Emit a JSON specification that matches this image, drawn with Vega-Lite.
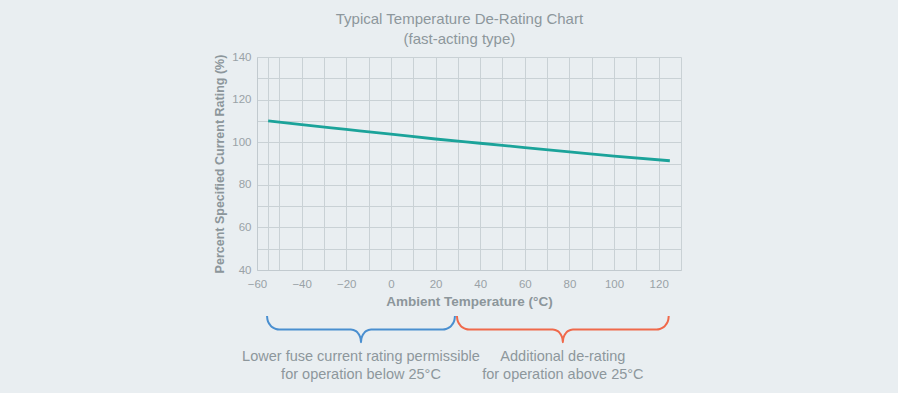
{
  "$schema": "https://vega.github.io/schema/vega-lite/v6.json",
  "background": "#e9eef1",
  "padding": {"left": 213, "top": 12, "right": 217, "bottom": 10},
  "title": {
    "text": ["Typical Temperature De-Rating Chart", "(fast-acting type)"],
    "font": "Liberation Sans",
    "fontSize": 15,
    "fontWeight": "normal",
    "color": "#8d979c",
    "lineHeight": 20,
    "anchor": "middle",
    "dx": 12,
    "offset": 4
  },
  "config": {
    "font": "Liberation Sans",
    "view": {"stroke": null},
    "axis": {
      "gridColor": "#c9d1d5",
      "gridWidth": 1,
      "domainColor": "#c2cacf",
      "ticks": false,
      "labelColor": "#99a2a7",
      "labelFont": "Liberation Sans",
      "labelFontSize": 11.5,
      "titleColor": "#8c969b",
      "titleFont": "Liberation Sans",
      "titleFontWeight": "bold",
      "labelOverlap": false,
      "labelFlush": false
    }
  },
  "datasets": {
    "curve": [
      {"temp": -55, "rating": 110.0},
      {"temp": -40, "rating": 108.2},
      {"temp": -20, "rating": 106.0},
      {"temp": 0, "rating": 103.8},
      {"temp": 20, "rating": 101.5},
      {"temp": 40, "rating": 99.5},
      {"temp": 60, "rating": 97.5},
      {"temp": 80, "rating": 95.5},
      {"temp": 100, "rating": 93.5},
      {"temp": 125, "rating": 91.3}
    ],
    "braces": [
      {"side": "below", "seq": 1, "temp": -55.5, "level": 0},
      {"side": "below", "seq": 2, "temp": -55.32, "level": 3.5},
      {"side": "below", "seq": 3, "temp": -54.78, "level": 6.75},
      {"side": "below", "seq": 4, "temp": -53.92, "level": 9.55},
      {"side": "below", "seq": 5, "temp": -52.8, "level": 11.7},
      {"side": "below", "seq": 6, "temp": -51.5, "level": 13.04},
      {"side": "below", "seq": 7, "temp": -50.1, "level": 13.5},
      {"side": "below", "seq": 8, "temp": -17.9, "level": 13.5},
      {"side": "below", "seq": 9, "temp": -15.65, "level": 15.2},
      {"side": "below", "seq": 10, "temp": -14.72, "level": 17.25},
      {"side": "below", "seq": 11, "temp": -14.0, "level": 19.9},
      {"side": "below", "seq": 12, "temp": -13.55, "level": 23.0},
      {"side": "below", "seq": 13, "temp": -13.4, "level": 26.3},
      {"side": "below", "seq": 14, "temp": -13.25, "level": 23.0},
      {"side": "below", "seq": 15, "temp": -12.8, "level": 19.9},
      {"side": "below", "seq": 16, "temp": -12.08, "level": 17.25},
      {"side": "below", "seq": 17, "temp": -11.15, "level": 15.2},
      {"side": "below", "seq": 18, "temp": -8.9, "level": 13.5},
      {"side": "below", "seq": 19, "temp": 23.3, "level": 13.5},
      {"side": "below", "seq": 20, "temp": 24.7, "level": 13.04},
      {"side": "below", "seq": 21, "temp": 26.0, "level": 11.7},
      {"side": "below", "seq": 22, "temp": 27.12, "level": 9.55},
      {"side": "below", "seq": 23, "temp": 27.98, "level": 6.75},
      {"side": "below", "seq": 24, "temp": 28.52, "level": 3.5},
      {"side": "below", "seq": 25, "temp": 28.7, "level": 0},
      {"side": "above", "seq": 1, "temp": 29.6, "level": 0},
      {"side": "above", "seq": 2, "temp": 29.78, "level": 3.5},
      {"side": "above", "seq": 3, "temp": 30.32, "level": 6.75},
      {"side": "above", "seq": 4, "temp": 31.18, "level": 9.55},
      {"side": "above", "seq": 5, "temp": 32.3, "level": 11.7},
      {"side": "above", "seq": 6, "temp": 33.6, "level": 13.04},
      {"side": "above", "seq": 7, "temp": 35.0, "level": 13.5},
      {"side": "above", "seq": 8, "temp": 72.55, "level": 13.5},
      {"side": "above", "seq": 9, "temp": 74.8, "level": 15.2},
      {"side": "above", "seq": 10, "temp": 75.73, "level": 17.25},
      {"side": "above", "seq": 11, "temp": 76.45, "level": 19.9},
      {"side": "above", "seq": 12, "temp": 76.9, "level": 23.0},
      {"side": "above", "seq": 13, "temp": 77.05, "level": 26.3},
      {"side": "above", "seq": 14, "temp": 77.2, "level": 23.0},
      {"side": "above", "seq": 15, "temp": 77.65, "level": 19.9},
      {"side": "above", "seq": 16, "temp": 78.37, "level": 17.25},
      {"side": "above", "seq": 17, "temp": 79.3, "level": 15.2},
      {"side": "above", "seq": 18, "temp": 81.55, "level": 13.5},
      {"side": "above", "seq": 19, "temp": 119.1, "level": 13.5},
      {"side": "above", "seq": 20, "temp": 120.5, "level": 13.04},
      {"side": "above", "seq": 21, "temp": 121.8, "level": 11.7},
      {"side": "above", "seq": 22, "temp": 122.92, "level": 9.55},
      {"side": "above", "seq": 23, "temp": 123.78, "level": 6.75},
      {"side": "above", "seq": 24, "temp": 124.32, "level": 3.5},
      {"side": "above", "seq": 25, "temp": 124.5, "level": 0}
    ],
    "notes": [
      {"temp": -13.4, "level": 41, "note": "Lower fuse current rating permissible"},
      {"temp": -13.4, "level": 59, "note": "for operation below 25°C"},
      {"temp": 77.05, "level": 41, "note": "Additional de-rating"},
      {"temp": 77.05, "level": 59, "note": "for operation above 25°C"}
    ]
  },
  "vconcat": [
    {
      "width": 424,
      "height": 213,
      "data": {"name": "curve"},
      "mark": {"type": "line", "color": "#1ba39a", "strokeWidth": 2.8, "interpolate": "monotone"},
      "encoding": {
        "x": {
          "field": "temp",
          "type": "quantitative",
          "scale": {"domain": [-60, 130], "nice": false, "zero": false},
          "axis": {
            "values": [-60, -55, -50, -40, -30, -20, -10, 0, 10, 20, 30, 40, 50, 60, 70, 80, 90, 100, 110, 120, 130],
            "labelExpr": "datum.value % 20 == 0 ? datum.label : ''",
            "grid": true,
            "labelPadding": 8,
            "title": "Ambient Temperature (°C)",
            "titleFontSize": 13.5,
            "titlePadding": 5
          }
        },
        "y": {
          "field": "rating",
          "type": "quantitative",
          "scale": {"domain": [40, 140], "nice": false, "zero": false},
          "axis": {
            "values": [40, 50, 60, 70, 80, 90, 100, 110, 120, 130, 140],
            "labelExpr": "datum.value % 20 == 0 ? datum.label : ''",
            "grid": true,
            "labelPadding": 6,
            "title": "Percent Specified Current Rating (%)",
            "titleFontSize": 12.5,
            "titlePadding": 5
          }
        }
      }
    },
    {
      "width": 424,
      "height": 70,
      "layer": [
        {
          "data": {"name": "braces"},
          "mark": {"type": "line", "strokeWidth": 2, "interpolate": "monotone"},
          "encoding": {
            "x": {"field": "temp", "type": "quantitative", "scale": {"domain": [-60, 130], "nice": false, "zero": false}, "axis": null},
            "y": {"field": "level", "type": "quantitative", "scale": {"domain": [0, 70], "reverse": true, "nice": false}, "axis": null},
            "color": {"field": "side", "type": "nominal", "scale": {"domain": ["below", "above"], "range": ["#4a8fd0", "#f0694b"]}, "legend": null},
            "order": {"field": "seq", "type": "quantitative"}
          }
        },
        {
          "data": {"name": "notes"},
          "mark": {"type": "text", "fontSize": 14.5, "color": "#8d979c", "align": "center", "baseline": "middle", "font": "Liberation Sans"},
          "encoding": {
            "x": {"field": "temp", "type": "quantitative"},
            "y": {"field": "level", "type": "quantitative"},
            "text": {"field": "note"}
          }
        }
      ]
    }
  ],
  "resolve": {"scale": {"x": "shared"}},
  "spacing": 4
}
